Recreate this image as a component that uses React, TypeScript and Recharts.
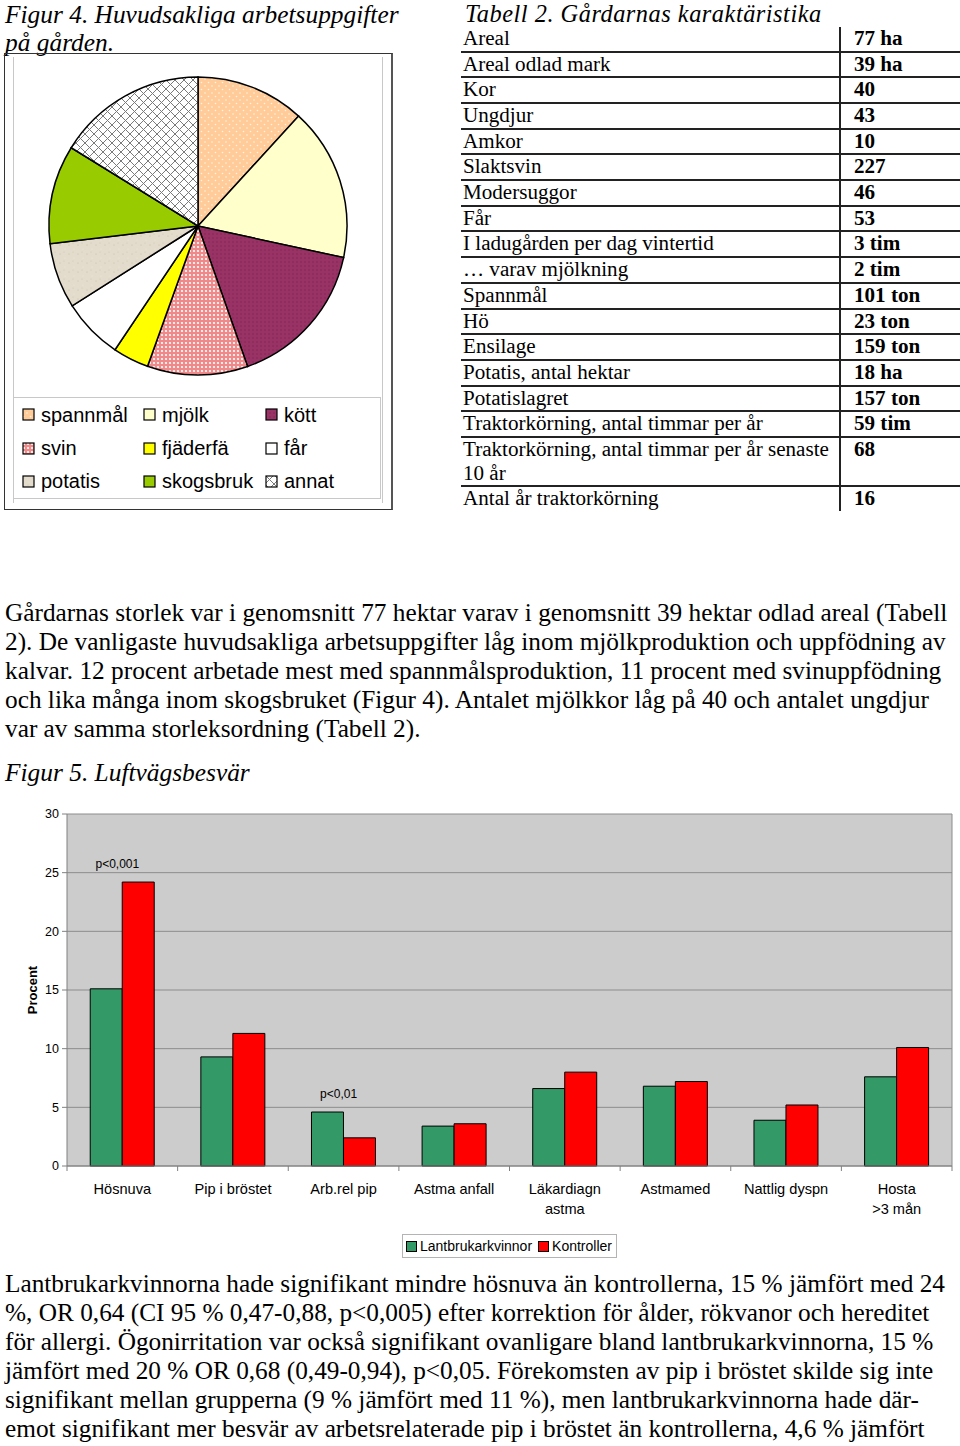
import React from "react";
import {
  PieChart,
  Pie,
  Cell,
  Legend,
  BarChart,
  Bar,
  XAxis,
  YAxis,
  CartesianGrid,
  ReferenceDot,
} from "recharts";

const SERIF = "'Liberation Serif', 'Times New Roman', serif";
const SANS = "'Liberation Sans', Arial, sans-serif";

// Figur 4 – main tasks on the farm (share, %)
const taskNames = ["spannmål", "mjölk", "kött", "svin", "fjäderfä", "får", "potatis", "skogsbruk", "annat"];
const taskShares = [11.8, 16.6, 16.2, 10.9, 3.9, 6.6, 7.1, 10.7, 16.2];
const taskFills = [
  "url(#pSpannmal)",
  "#FFFFCC",
  "url(#pKott)",
  "url(#pSvin)",
  "#FFFF00",
  "#FFFFFF",
  "url(#pPotatis)",
  "#99CC00",
  "url(#pAnnat)",
];

// Tabell 2
const tableLabels = [
  "Areal",
  "Areal odlad mark",
  "Kor",
  "Ungdjur",
  "Amkor",
  "Slaktsvin",
  "Modersuggor",
  "Får",
  "I ladugården per dag vintertid",
  "… varav mjölkning",
  "Spannmål",
  "Hö",
  "Ensilage",
  "Potatis, antal hektar",
  "Potatislagret",
  "Traktorkörning, antal timmar per år",
  "Traktorkörning, antal timmar per år senaste 10 år",
  "Antal år traktorkörning",
];
const tableValues = [
  "77 ha", "39 ha", "40", "43", "10", "227", "46", "53", "3 tim", "2 tim",
  "101 ton", "23 ton", "159 ton", "18 ha", "157 ton", "59 tim", "68", "16",
];

// Figur 5 – Luftvägsbesvär (%)
const symptoms = [
  "Hösnuva",
  "Pip i bröstet",
  "Arb.rel pip",
  "Astma anfall",
  "Läkardiagn\nastma",
  "Astmamed",
  "Nattlig dyspn",
  "Hosta\n>3 mån",
];
const farmWomen = [15.1, 9.3, 4.6, 3.4, 6.6, 6.8, 3.9, 7.6];
const controls = [24.2, 11.3, 2.4, 3.6, 8.0, 7.2, 5.2, 10.1];
const pNotes = ["p<0,001", "", "p<0,01", "", "", "", "", ""];
const yTicks = [0, 5, 10, 15, 20, 25, 30];
const seriesNames = ["Lantbrukarkvinnor", "Kontroller"];
const seriesColors = ["#339966", "#FF0000"];

const bodyLines = [
  "Gårdarnas storlek var i genomsnitt 77 hektar varav i genomsnitt 39 hektar odlad areal (Tabell",
  "2). De vanligaste huvudsakliga arbetsuppgifter låg inom mjölkproduktion och uppfödning av",
  "kalvar. 12 procent arbetade mest med spannmålsproduktion, 11 procent med svinuppfödning",
  "och lika många inom skogsbruket (Figur 4). Antalet mjölkkor låg på 40 och antalet ungdjur",
  "var av samma storleksordning (Tabell 2).",
];
const bottomLines = [
  "Lantbrukarkvinnorna hade signifikant mindre hösnuva än kontrollerna, 15 % jämfört med 24",
  "%, OR 0,64 (CI 95 % 0,47-0,88, p<0,005) efter korrektion för ålder, rökvanor och hereditet",
  "för allergi. Ögonirritation var också signifikant ovanligare bland lantbrukarkvinnorna, 15 %",
  "jämfört med 20 % OR 0,68 (0,49-0,94), p<0,05. Förekomsten av pip i bröstet skilde sig inte",
  "signifikant mellan grupperna (9 % jämfört med 11 %), men lantbrukarkvinnorna hade där-",
  "emot signifikant mer besvär av arbetsrelaterade pip i bröstet än kontrollerna, 4,6 % jämfört",
];

const pieData = taskNames.map((name, i) => ({ name, value: taskShares[i], fill: taskFills[i] }));
const barData = symptoms.map((name, i) => ({
  name,
  women: farmWomen[i],
  controls: controls[i],
}));

function PiePatterns() {
  return (
    <defs>
      <pattern id="pSpannmal" width="7" height="7" patternUnits="userSpaceOnUse">
        <rect width="7" height="7" fill="#FFCC99" />
        <circle cx="1.5" cy="1.5" r="0.8" fill="#FFF3E6" />
        <circle cx="5" cy="5" r="0.8" fill="#FFF3E6" />
      </pattern>
      <pattern id="pKott" width="4" height="4" patternUnits="userSpaceOnUse">
        <rect width="4" height="4" fill="#993366" />
        <circle cx="1" cy="1" r="0.7" fill="#7E2550" />
      </pattern>
      <pattern id="pSvin" width="4" height="4" patternUnits="userSpaceOnUse">
        <rect width="4" height="4" fill="#F08A8A" />
        <circle cx="2" cy="2" r="1.1" fill="#FFFFFF" />
      </pattern>
      <pattern id="pPotatis" width="9" height="9" patternUnits="userSpaceOnUse">
        <rect width="9" height="9" fill="#E3DBCB" />
        <circle cx="2" cy="3" r="0.6" fill="#C9BFAB" />
        <circle cx="7" cy="7" r="0.5" fill="#F2EDE3" />
        <circle cx="6" cy="1" r="0.5" fill="#CFC5B2" />
      </pattern>
      <pattern id="pAnnat" width="9" height="9" patternUnits="userSpaceOnUse">
        <rect width="9" height="9" fill="#FFFFFF" />
        <path d="M0 0 L9 9 M9 0 L0 9" stroke="#7A7A7A" strokeWidth="1" />
      </pattern>
    </defs>
  );
}

function PieLegend() {
  return (
    <div
      style={{
        width: 368,
        height: 102,
        boxSizing: "border-box",
        border: "1px solid #C8C8C8",
        background: "#fff",
        display: "grid",
        gridTemplateColumns: "121px 122px 120px",
        gridTemplateRows: "34px 33px 33px",
        paddingLeft: 8,
        fontFamily: SANS,
        fontSize: 20,
        color: "#000",
      }}
    >
      {taskNames.map((name, i) => (
        <div key={name} style={{ display: "flex", alignItems: "center", whiteSpace: "nowrap" }}>
          <svg width={14} height={14} style={{ marginRight: 5 }}>
            <rect x={1} y={1} width={11} height={11} fill={taskFills[i]} stroke="#000" strokeWidth={1.2} />
          </svg>
          {name}
        </div>
      ))}
    </div>
  );
}

function SymptomTick(props: any) {
  const { x, y, payload, index, visibleTicksCount, width } = props;
  const half =
    (payload && payload.offset) ||
    (width && visibleTicksCount ? width / visibleTicksCount / 2 : 55);
  const lines = String(payload.value).split("\n");
  const left = x - half;
  return (
    <g>
      <line x1={left} x2={left} y1={y} y2={y + 5} stroke="#808080" />
      {index === visibleTicksCount - 1 && (
        <line x1={x + half} x2={x + half} y1={y} y2={y + 5} stroke="#808080" />
      )}
      <text x={x} y={y} textAnchor="middle" fontSize={14.6} fontFamily={SANS} fill="#000">
        {lines.map((l, i) => (
          <tspan key={i} x={x} dy={i === 0 ? 28 : 20}>
            {l}
          </tspan>
        ))}
      </text>
    </g>
  );
}

function ProcentLabel(props: any) {
  const vb = props.viewBox || {};
  const cy = (vb.y || 0) + (vb.height || 0) / 2;
  return (
    <text
      x={32}
      y={cy}
      transform={`rotate(-90 32 ${cy})`}
      textAnchor="middle"
      dominantBaseline="central"
      fontSize={13}
      fontWeight="bold"
      fontFamily={SANS}
      fill="#000"
    >
      Procent
    </text>
  );
}

function BarLegend() {
  return (
    <div style={{ height: 40, display: "flex", alignItems: "center", justifyContent: "center" }}>
      <div
        style={{
          display: "flex",
          alignItems: "center",
          border: "1px solid #B4B4B4",
          height: 24,
          boxSizing: "border-box",
          padding: "0 4px 0 3px",
          fontFamily: SANS,
          fontSize: 14,
          color: "#000",
          background: "#fff",
        }}
      >
        {seriesNames.map((name, i) => (
          <span key={name} style={{ display: "flex", alignItems: "center", marginLeft: i ? 6 : 0 }}>
            <span
              style={{
                width: 9,
                height: 9,
                background: seriesColors[i],
                border: "1px solid #000",
                marginRight: 3,
                display: "inline-block",
              }}
            />
            {name}
          </span>
        ))}
      </div>
    </div>
  );
}

const titleStyle: React.CSSProperties = {
  position: "absolute",
  fontFamily: SERIF,
  fontStyle: "italic",
  fontSize: 25.4,
  lineHeight: "28px",
  whiteSpace: "nowrap",
  color: "#000",
};

const textStyle: React.CSSProperties = {
  position: "absolute",
  left: 5,
  fontFamily: SERIF,
  fontSize: 25.3,
  lineHeight: "29px",
  whiteSpace: "nowrap",
};

export default function App() {
  const rowPitch = 25.7;
  return (
    <div
      style={{
        position: "absolute",
        left: 0,
        top: 0,
        width: 960,
        height: 1446,
        background: "#fff",
        overflow: "hidden",
        fontFamily: SERIF,
        color: "#000",
      }}
    >
      {/* Figur 4 title */}
      <div style={{ ...titleStyle, left: 5, top: 0 }}>
        Figur 4. Huvudsakliga arbetsuppgifter
        <br />
        på gården.
      </div>

      {/* pie chart frame */}
      <div
        style={{
          position: "absolute",
          left: 4,
          top: 53,
          width: 389,
          height: 457,
          boxSizing: "border-box",
          border: "1px solid #333",
          borderRight: "2px solid #555",
        }}
      />
      <div
        style={{
          position: "absolute",
          left: 13,
          top: 57,
          width: 370,
          height: 446,
          boxSizing: "border-box",
          borderLeft: "1px solid #C8C8C8",
          borderRight: "1px solid #C8C8C8",
        }}
      />
      <div style={{ position: "absolute", left: 4, top: 53 }}>
        <PieChart width={389} height={457} margin={{ top: 0, right: 0, bottom: 0, left: 0 }}>
          <PiePatterns />
          <Pie
            data={pieData}
            dataKey="value"
            nameKey="name"
            cx={194}
            cy={173}
            outerRadius={149}
            startAngle={90}
            endAngle={-270}
            stroke="#000"
            strokeWidth={1.5}
            isAnimationActive={false}
          >
            {pieData.map((d) => (
              <Cell key={d.name} fill={d.fill} />
            ))}
          </Pie>
          <Legend
            content={<PieLegend />}
            wrapperStyle={{ position: "absolute", left: 9, top: 344, width: 368, height: 102 }}
          />
        </PieChart>
      </div>

      {/* Tabell 2 */}
      <div
        style={{
          ...titleStyle,
          left: 465,
          top: 0,
          fontSize: 24.4,
          letterSpacing: "0.5px",
          lineHeight: "27px",
        }}
      >
        Tabell 2. Gårdarnas karaktäristika
      </div>
      <div style={{ position: "absolute", left: 461, top: 26.8, width: 499, fontFamily: SERIF, fontSize: 21.1 }}>
        {tableLabels.map((label, i) => (
          <div
            key={label}
            style={{
              display: "flex",
              boxSizing: "border-box",
              borderBottom: i === tableLabels.length - 1 ? "none" : "2px solid #222",
              lineHeight: `${rowPitch - 2}px`,
            }}
          >
            <div style={{ width: 378, paddingLeft: 2, boxSizing: "border-box" }}>{label}</div>
            <div
              style={{
                flex: 1,
                borderLeft: "2px solid #222",
                paddingLeft: 13,
                fontWeight: "bold",
              }}
            >
              {tableValues[i]}
            </div>
          </div>
        ))}
      </div>

      {/* body text */}
      <div style={{ ...textStyle, top: 598 }}>
        {bodyLines.map((l) => (
          <div key={l}>{l}</div>
        ))}
      </div>

      <div style={{ ...titleStyle, left: 5, top: 758 }}>Figur 5. Luftvägsbesvär</div>

      {/* Figur 5 bar chart */}
      <div style={{ position: "absolute", left: 0, top: 795 }}>
        <BarChart
          width={960}
          height={475}
          data={barData}
          margin={{ top: 19, right: 8, bottom: 4, left: 0 }}
          barCategoryGap="21%"
          barGap={0}
        >
          <CartesianGrid
            horizontal
            vertical
            verticalCoordinatesGenerator={({ offset }: any) => [offset.left + offset.width]}
            stroke="#8C8C8C"
            fill="#CCCCCC"
            fillOpacity={1}
          />
          <XAxis
            dataKey="name"
            height={60}
            interval={0}
            tickLine={false}
            tickSize={0}
            tickMargin={0}
            axisLine={{ stroke: "#808080" }}
            tick={<SymptomTick />}
          />
          <YAxis
            width={67}
            domain={[0, 30]}
            ticks={yTicks}
            interval={0}
            tickSize={5}
            tickMargin={3}
            axisLine={{ stroke: "#808080" }}
            tickLine={{ stroke: "#808080" }}
            tick={{ fontSize: 12.5, fontFamily: SANS, fill: "#000" }}
            label={<ProcentLabel />}
          />
          <Legend
            verticalAlign="bottom"
            height={40}
            content={<BarLegend />}
            wrapperStyle={{ left: 67, width: 885 }}
          />
          <Bar
            dataKey="women"
            name={seriesNames[0]}
            fill={seriesColors[0]}
            stroke="#000"
            strokeWidth={1}
            isAnimationActive={false}
          />
          <Bar
            dataKey="controls"
            name={seriesNames[1]}
            fill={seriesColors[1]}
            stroke="#000"
            strokeWidth={1}
            isAnimationActive={false}
          />
          {pNotes.map((note, i) =>
            note ? (
              <ReferenceDot
                key={note}
                x={symptoms[i]}
                y={Math.max(farmWomen[i], controls[i]) + 1.6}
                r={0}
                fill="none"
                stroke="none"
                label={{ value: note, position: "center", dx: -5, fontSize: 12, fontFamily: SANS, fill: "#000" }}
              />
            ) : null
          )}
        </BarChart>
      </div>

      {/* bottom text */}
      <div style={{ ...textStyle, top: 1269 }}>
        {bottomLines.map((l) => (
          <div key={l}>{l}</div>
        ))}
      </div>
    </div>
  );
}
